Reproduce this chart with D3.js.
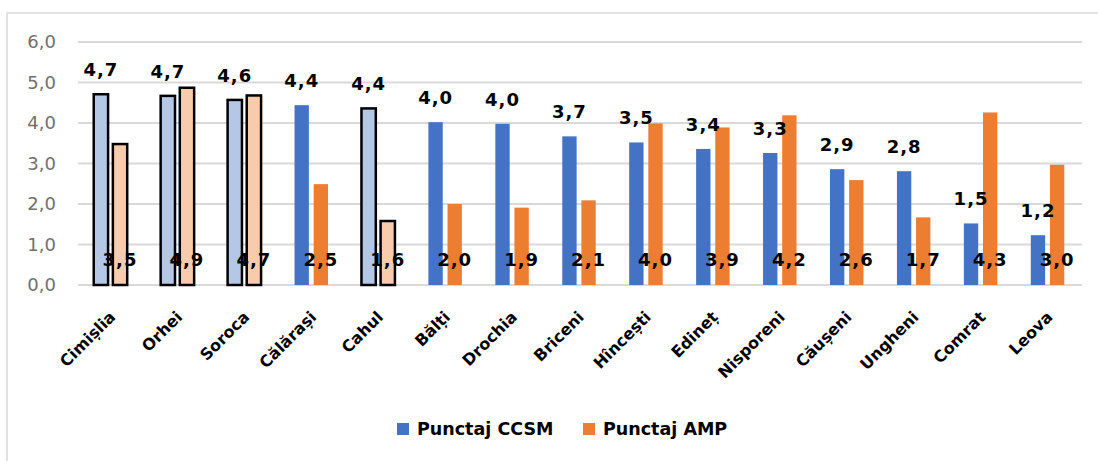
<!DOCTYPE html>
<html>
<head>
<meta charset="utf-8">
<script src="https://cdn.jsdelivr.net/npm/d3@7"></script>
<style>
  html, body { margin: 0; padding: 0; background: #fff; }
  svg { display: block; }
</style>
</head>
<body>
<svg id="chart" width="1098" height="461"></svg>
<script>
// District scores
const districts = ["Cimișlia", "Orhei", "Soroca", "Călărași", "Cahul", "Bălți", "Drochia",
  "Briceni", "Hîncești", "Edineț", "Nisporeni", "Căușeni", "Ungheni", "Comrat", "Leova"];
const ccsm = [4.71, 4.67, 4.57, 4.44, 4.36, 4.02, 3.98, 3.67, 3.52, 3.36, 3.26, 2.86, 2.81, 1.52, 1.23];
const amp  = [3.48, 4.87, 4.68, 2.49, 1.58, 2.00, 1.91, 2.09, 3.99, 3.89, 4.19, 2.59, 1.67, 4.26, 2.97];
// Districts drawn with pale fills and dark outlines
const highlighted = ["Cimișlia", "Orhei", "Soroca", "Cahul"];
const seriesNames = ["Punctaj CCSM", "Punctaj AMP"];
const yTicks = [0, 1, 2, 3, 4, 5, 6];

const colors = { ccsm: "#4472c4", amp: "#ed7d31", ccsmPale: "#b4c7e7", ampPale: "#f8cbad" };
const FONT = "'DejaVu Sans', sans-serif";
const fmt = v => d3.format(".1f")(v).replace(".", ",");

const svg = d3.select("#chart");

// Chart frame
svg.append("rect")
  .attr("x", 7).attr("y", 13).attr("width", 1200).attr("height", 600)
  .attr("fill", "none").attr("stroke", "#d9d9d9").attr("stroke-width", 1.5);

const x0 = d3.scaleBand().domain(districts).range([77, 1081]).paddingInner(0.5).paddingOuter(0.25);
const x1 = d3.scaleBand().domain(["ccsm", "amp"]).range([0, x0.bandwidth()]).paddingInner(0.25);
const y = d3.scaleLinear().domain([0, 6]).range([285, 42]);

// Gridlines
svg.append("g").selectAll("line").data(yTicks).join("line")
  .attr("x1", 78).attr("x2", 1082)
  .attr("y1", d => y(d)).attr("y2", d => y(d))
  .attr("stroke", "#d9d9d9").attr("stroke-width", 2);

// Y axis
const yAxis = svg.append("g").attr("transform", "translate(62,0)")
  .call(d3.axisLeft(y).tickValues(yTicks).tickFormat(fmt).tickSize(0).tickPadding(6));
yAxis.select(".domain").remove();
yAxis.selectAll("text").attr("font-family", FONT).attr("font-size", 18).attr("fill", "#707070");

const rows = districts.map((d, i) => ({ d, ccsm: ccsm[i], amp: amp[i], hi: highlighted.includes(d) }));

const groups = svg.append("g").selectAll("g").data(rows).join("g")
  .attr("transform", r => `translate(${x0(r.d)},0)`);

// Bars
groups.append("rect")
  .attr("x", x1("ccsm")).attr("width", x1.bandwidth())
  .attr("y", r => y(r.ccsm)).attr("height", r => y(0) - y(r.ccsm))
  .attr("fill", r => r.hi ? colors.ccsmPale : colors.ccsm)
  .attr("stroke", r => r.hi ? "#000" : "none").attr("stroke-width", 2.5);
groups.append("rect")
  .attr("x", x1("amp")).attr("width", x1.bandwidth())
  .attr("y", r => y(r.amp)).attr("height", r => y(0) - y(r.amp))
  .attr("fill", r => r.hi ? colors.ampPale : colors.amp)
  .attr("stroke", r => r.hi ? "#000" : "none").attr("stroke-width", 2.5);

// Value labels: CCSM above its bar, AMP near the base
groups.append("text")
  .attr("x", x1("ccsm") + x1.bandwidth() / 2)
  .attr("y", r => y(r.ccsm) - 18)
  .attr("text-anchor", "middle")
  .attr("font-family", FONT).attr("font-size", 18).attr("font-weight", "bold")
  .attr("letter-spacing", 1).attr("fill", "#000")
  .text(r => fmt(r.ccsm));
groups.append("text")
  .attr("x", x1("amp") + x1.bandwidth() / 2)
  .attr("y", 266)
  .attr("text-anchor", "middle")
  .attr("font-family", FONT).attr("font-size", 18).attr("font-weight", "bold")
  .attr("letter-spacing", 1).attr("fill", "#000")
  .text(r => fmt(r.amp));

// Category labels, rotated
svg.append("g").selectAll("text").data(districts).join("text")
  .attr("transform", d => `translate(${x0(d) + x0.bandwidth() / 2 + 6},318) rotate(-45)`)
  .attr("text-anchor", "end")
  .attr("font-family", FONT).attr("font-size", 16).attr("font-weight", "bold")
  .attr("fill", "#000")
  .text(d => d);

// Legend
const legend = svg.append("g");
const legendX = [397, 583];
const legendColors = [colors.ccsm, colors.amp];
seriesNames.forEach((name, i) => {
  legend.append("rect").attr("x", legendX[i]).attr("y", 423).attr("width", 12).attr("height", 12)
    .attr("fill", legendColors[i]);
  legend.append("text").attr("x", legendX[i] + 20).attr("y", 435)
    .attr("font-family", FONT).attr("font-size", 17.5).attr("font-weight", "bold")
    .attr("fill", "#000").text(name);
});
</script>
</body>
</html>
